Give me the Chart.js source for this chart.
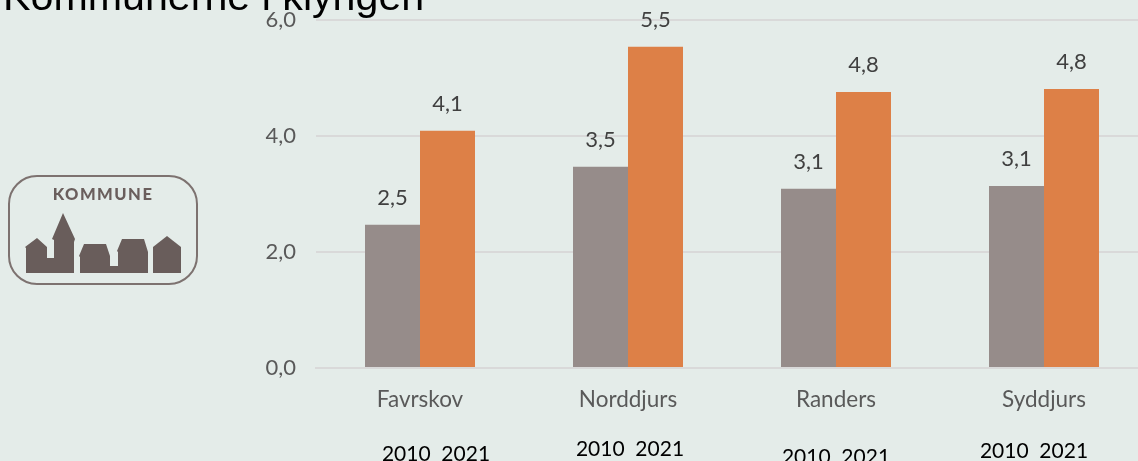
<!DOCTYPE html>
<html>
<head>
<meta charset="utf-8">
<script src="https://cdn.jsdelivr.net/npm/chart.js@4"></script>
<style>
    html, body { margin: 0; padding: 0; background: #e4ece9; overflow: hidden; }
    #wrap { position: relative; width: 1138px; height: 461px; overflow: hidden; }
    canvas { position: absolute; left: 0; top: 0; }
    #title { position: absolute; left: 3px; top: -27px; font: 41.2px/47px "Liberation Sans", sans-serif; color: #000; white-space: nowrap; }
    #logo { position: absolute; left: 0; top: 0; }
    .years { position: absolute; font: 21px/24px Lato, sans-serif; color: #000; transform: translateX(-50%); white-space: pre; }
</style>
</head>
<body>
<div id="wrap">
    <canvas id="canvasChart" width="1148" height="461"></canvas>
    <div id="title">Kommunerne i klyngen</div>
    <svg id="logo" width="210" height="300">
        <rect x="9" y="176" width="188" height="108" rx="28" fill="none" stroke="#7d7270" stroke-width="2"/>
        <text x="103" y="200" text-anchor="middle" font-family="Lato, sans-serif" font-weight="900" font-size="16.5" letter-spacing="1.5" fill="#6a5e5c">KOMMUNE</text>
        <path fill="#695d5b" d="M26 273V248L25 247L37 238L47 247V258H54V240L52 239L63 213L75 239L74 242V273Z"/>
        <path fill="#695d5b" d="M80 273V257L79 256L84 244H106L110 256V266H118V252L117 251L122 239H144L148 252V273Z"/>
        <path fill="#695d5b" d="M153 273V247L167 236L181 247V273Z"/>
    </svg>
</div>
<script>
const categories = ['Favrskov', 'Norddjurs', 'Randers', 'Syddjurs'];
const values2010 = [2.47, 3.47, 3.09, 3.14];
const values2021 = [4.09, 5.54, 4.76, 4.81];
const yearLabels = ['2010  2021', '2010  2021', '2010  2021', '2010  2021'];
const yTicks = [0, 2, 4, 6];

const comma = v => v.toFixed(1).replace('.', ',');

// the numbers over the bars sit a fixed distance above each bar top
const valueLabels = {
    id: 'valueLabels',
    afterDatasetsDraw(chart) {
        const ctx = chart.ctx;
        ctx.save();
        ctx.font = '22px Lato, sans-serif';
        ctx.fillStyle = '#404040';
        ctx.textAlign = 'center';
        ctx.textBaseline = 'middle';
        chart.data.datasets.forEach((ds, i) => {
            chart.getDatasetMeta(i).data.forEach((bar, j) => {
                ctx.fillText(comma(ds.data[j]), bar.x, bar.y - 27);
            });
        });
        ctx.restore();
    }
};

new Chart(document.getElementById('canvasChart').getContext('2d'), {
    type: 'bar',
    data: {
        labels: categories,
        datasets: [
            { label: '2010', data: values2010, backgroundColor: '#968c8a' },
            { label: '2021', data: values2021, backgroundColor: '#dd8047' }
        ]
    },
    options: {
        responsive: false,
        animation: false,
        layout: { padding: { top: 20, right: 0, bottom: 0, left: 0 } },
        categoryPercentage: 110 / 208,
        barPercentage: 1,
        plugins: { legend: { display: false }, tooltip: { enabled: false } },
        scales: {
            x: {
                grid: { display: false, drawTicks: false },
                border: { color: '#d9d9d9', width: 2 },
                ticks: { color: '#595959', font: { family: 'Lato, sans-serif', size: 22.5 }, padding: 18, maxRotation: 0 },
                afterFit: scale => { scale.height = 93; }
            },
            y: {
                min: 0,
                max: 6,
                afterBuildTicks: scale => { scale.ticks = yTicks.map(value => ({ value })); },
                grid: { color: '#d9d9d9', lineWidth: 2, drawTicks: false },
                border: { display: false },
                ticks: { color: '#595959', font: { family: 'Lato, sans-serif', size: 22 }, padding: 20, callback: v => comma(v) },
                afterFit: scale => { scale.width = 316; scale.paddingTop = 0; scale.paddingBottom = 0; }
            }
        }
    },
    plugins: [valueLabels]
});

// year captions under each group, slightly uneven as in the source slide
const yearPos = [[436, 441], [630, 436], [836, 444], [1034, 438]];
yearLabels.forEach((text, i) => {
    const el = document.createElement('div');
    el.className = 'years';
    el.textContent = text;
    el.style.left = yearPos[i][0] + 'px';
    el.style.top = yearPos[i][1] + 'px';
    document.getElementById('wrap').appendChild(el);
});
</script>
</body>
</html>
